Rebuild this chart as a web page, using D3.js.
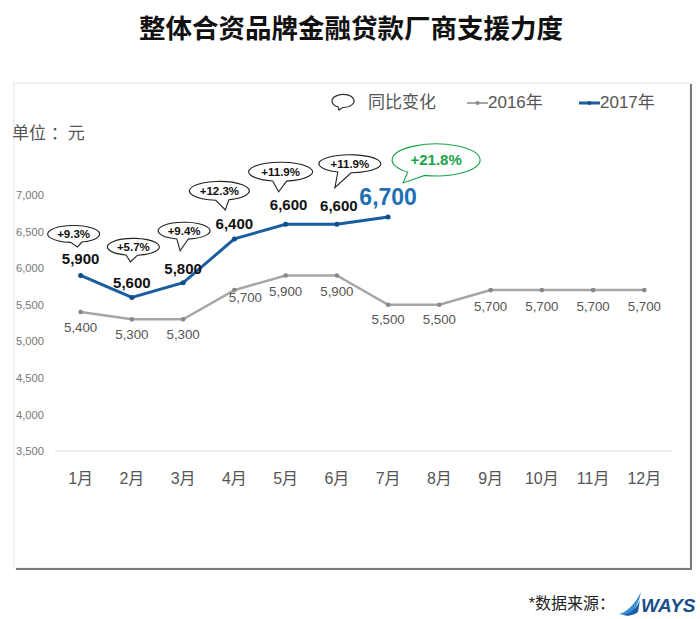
<!DOCTYPE html>
<html><head><meta charset="utf-8">
<script src="https://cdn.jsdelivr.net/npm/d3@7"></script>
<style>
body{margin:0;background:#fff;}
text{font-family:"Liberation Sans",Arial,"Noto Sans CJK SC",sans-serif;}
</style></head>
<body>
<svg id="chart" width="700" height="619"></svg>
<script>
const months = ["1月","2月","3月","4月","5月","6月","7月","8月","9月","10月","11月","12月"];
const values2016 = [5400,5300,5300,5700,5900,5900,5500,5500,5700,5700,5700,5700];
const values2017 = [5900,5600,5800,6400,6600,6600,6700];
const yoyLabels = ["+9.3%","+5.7%","+9.4%","+12.3%","+11.9%","+11.9%","+21.8%"];
const yTicks = [3500,4000,4500,5000,5500,6000,6500,7000];
const seriesNames = ["2016年","2017年"];

const svg = d3.select("#chart");
const c2016 = "#a6a6a6", c2017 = "#1a5da0";

// title
svg.append("text").attr("x",351).attr("y",38).attr("text-anchor","middle")
  .attr("font-size",26.5).attr("font-weight","bold").attr("fill","#111").text("整体合资品牌金融贷款厂商支援力度");

// panel frame with shadow
svg.append("rect").attr("x",14).attr("y",83).attr("width",676).attr("height",485)
  .attr("fill","#fff").attr("stroke","#e6e6e6").attr("stroke-width",1);
svg.append("path").attr("d","M691,84 V569 H16").attr("fill","none").attr("stroke","#7a7a7a").attr("stroke-width",2);

// scales
const x = d3.scaleBand().domain(months).range([55,670]).padding(0);
const y = d3.scaleLinear().domain([3500,7000]).range([451,195]);
const cx = i => x(months[i]) + x.bandwidth()/2;

// y axis
const yAxis = svg.append("g").attr("transform","translate(47,0)")
  .call(d3.axisLeft(y).tickValues(yTicks).tickFormat(d3.format(",")).tickSize(0));
yAxis.select(".domain").remove();
yAxis.selectAll("text").attr("font-size",11.2).attr("fill","#777").attr("font-family","Liberation Sans, Arial, sans-serif");

// baseline
svg.append("line").attr("x1",55).attr("x2",672).attr("y1",y(3500)).attr("y2",y(3500)).attr("stroke","#dcdcdc");

// x axis
const xAxis = svg.append("g").attr("transform",`translate(0,${y(3500)+27})`)
  .call(d3.axisBottom(x).tickSize(0));
xAxis.select(".domain").remove();
xAxis.selectAll("text").attr("font-size",16).attr("fill","#555").attr("dy","0.35em").attr("y",0);

// unit
svg.append("text").attr("x",12).attr("y",139).attr("font-size",17).attr("fill","#555").text("单位 ：元");

// lines
const line = d3.line().x((d,i)=>cx(i)).y(d=>y(d));
svg.append("path").datum(values2016).attr("d",line).attr("fill","none").attr("stroke",c2016).attr("stroke-width",2.5);
svg.append("path").datum(values2017).attr("d",line).attr("fill","none").attr("stroke",c2017).attr("stroke-width",3);
svg.selectAll(".p16").data(values2016).join("circle").attr("cx",(d,i)=>cx(i)).attr("cy",d=>y(d)).attr("r",2.3).attr("fill","#888");
svg.selectAll(".p17").data(values2017).join("circle").attr("cx",(d,i)=>cx(i)).attr("cy",d=>y(d)).attr("r",2.5).attr("fill","#0b4f8c");

// 2016 labels
const fmt = d3.format(",");
const lab16dx = [0,0,0,11,0,0,0,0,0,0,0,0];
const lab16dy = [15,15,15,7,16,16,15,15,16,16,16,16];
svg.selectAll(".l16").data(values2016).join("text")
  .attr("x",(d,i)=>cx(i)+lab16dx[i]).attr("y",(d,i)=>y(d)+lab16dy[i]).attr("dy","0.35em")
  .attr("text-anchor","middle").attr("font-size",13.3).attr("fill","#555").text(d=>fmt(d));

// 2017 labels
const lab17dy = [-17,-15,-14,-15,-20,-19,-20];
svg.selectAll(".l17").data(values2017).join("text")
  .attr("x",(d,i)=>cx(i)+(i===4?3:i===5?2:0)).attr("y",(d,i)=>y(d)+lab17dy[i]).attr("dy","0.35em")
  .attr("text-anchor","middle").attr("font-weight","bold")
  .attr("font-size",(d,i)=>i===6?23:15).attr("fill",(d,i)=>i===6?"#1f6fb5":"#111").text(d=>fmt(d));

// speech bubbles
const bub = [
  {dx:-7,dy:-41.5,rx:26,ry:8.5,tx:4,ty:13},
  {dx:1.5,dy:-50.5,rx:26,ry:8.5,tx:-3,ty:15},
  {dx:1,dy:-52,rx:26,ry:8.5,tx:-4,ty:20},
  {dx:-15,dy:-48,rx:30,ry:9.5,tx:6,ty:19},
  {dx:-5,dy:-52.5,rx:32,ry:9.5,tx:-2,ty:20},
  {dx:13,dy:-60.5,rx:31,ry:9,tx:-15,ty:24},
  {dx:48,dy:-57,rx:44,ry:16,tx:-33,ty:23}
];
function bubblePath(rx,ry,tx,ty){
  const ang = Math.atan2(ty/ry, tx/rx);
  const w = 0.22;
  const a1 = ang - w, a2 = ang + w;
  const p1 = [rx*Math.cos(a2), ry*Math.sin(a2)];
  const p2 = [rx*Math.cos(a1), ry*Math.sin(a1)];
  return `M${p1[0]},${p1[1]} A${rx},${ry} 0 1 1 ${p2[0]},${p2[1]} L${tx},${ty} Z`;
}
const bg = svg.selectAll(".bub").data(values2017).join("g")
  .attr("transform",(d,i)=>`translate(${cx(i)+bub[i].dx},${y(d)+bub[i].dy})`);
bg.append("path").attr("d",(d,i)=>bubblePath(bub[i].rx,bub[i].ry,bub[i].tx,bub[i].ty))
  .attr("fill","#fff").attr("stroke",(d,i)=>i===6?"#1aa34a":"#222").attr("stroke-width",1.1);
bg.append("text").attr("text-anchor","middle").attr("dy","0.36em").attr("font-weight","bold")
  .attr("font-size",(d,i)=>i===6?15:11.5).attr("fill",(d,i)=>i===6?"#1aa34a":"#111")
  .text((d,i)=>yoyLabels[i]);

// legend
const lg = svg.append("g");
lg.append("path").attr("transform","translate(343,101)").attr("d",bubblePath(11,6.5,-4,9))
  .attr("fill","#fff").attr("stroke","#333").attr("stroke-width",1.2);
lg.append("text").attr("x",368).attr("y",102).attr("dy","0.35em").attr("font-size",17).attr("fill","#555").text("同比变化");
const legItems = [{x:467,c:c2016,w:2,dc:"#888",name:seriesNames[0]},{x:579,c:c2017,w:3,dc:"#0b4f8c",name:seriesNames[1]}];
legItems.forEach(it=>{
  lg.append("line").attr("x1",it.x).attr("x2",it.x+21).attr("y1",103).attr("y2",103).attr("stroke",it.c).attr("stroke-width",it.w);
  lg.append("circle").attr("cx",it.x+10.5).attr("cy",103).attr("r",2).attr("fill",it.dc);
  lg.append("text").attr("x",it.x+21).attr("y",102).attr("dy","0.35em").attr("font-size",17).attr("fill","#555").text(it.name);
});

// footer
svg.append("text").attr("x",615).attr("y",603).attr("dy","0.35em").attr("text-anchor","end")
  .attr("font-size",16).attr("fill","#222").text("*数据来源：");
const logo = svg.append("g").attr("transform","translate(619,592)");
logo.append("path").attr("d","M0,22 C8,20 16,12 22,0 C20,10 16,18 10,24 Z").attr("fill","#3a8fd6");
logo.append("path").attr("d","M4,23 C12,21 18,16 21,8 L19,20 C16,23 10,24 4,23 Z").attr("fill","#1b5fa8");
logo.append("text").attr("x",22).attr("y",20).attr("font-size",19).attr("font-weight","bold").attr("font-style","italic")
  .attr("fill","#1b4f8a").text("WAYS");
</script>
</body></html>
